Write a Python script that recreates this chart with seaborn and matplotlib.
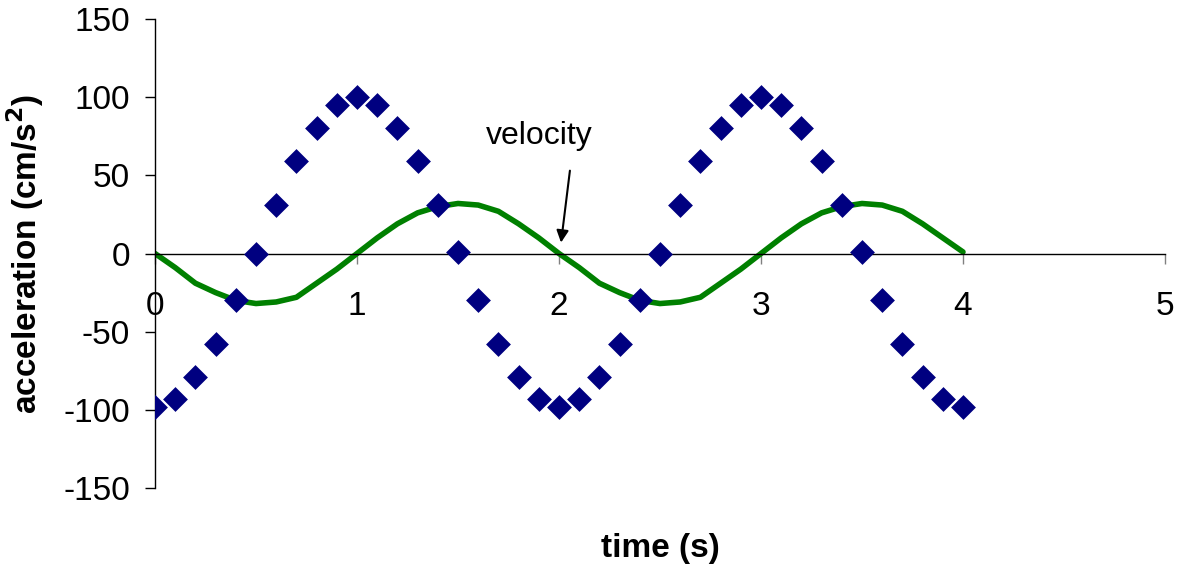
import numpy as np
import pandas as pd
import matplotlib
matplotlib.use("Agg")
import matplotlib.pyplot as plt
import seaborn as sns

# sample times (s)
time_s = [0.0, 0.1, 0.2, 0.3, 0.4, 0.5, 0.6, 0.7, 0.8, 0.9,
          1.0, 1.1, 1.2, 1.3, 1.4, 1.5, 1.6, 1.7, 1.8, 1.9,
          2.0, 2.1, 2.2, 2.3, 2.4, 2.5, 2.6, 2.7, 2.8, 2.9,
          3.0, 3.1, 3.2, 3.3, 3.4, 3.5, 3.6, 3.7, 3.8, 3.9, 4.0]

# acceleration (cm/s^2)
acceleration = [-98, -93, -79, -58, -30, 0, 31, 59, 80, 95,
                100, 95, 80, 59, 31, 1, -30, -58, -79, -93,
                -98, -93, -79, -58, -30, 0, 31, 59, 80, 95,
                100, 95, 80, 59, 31, 1, -30, -58, -79, -93, -98]

# velocity curve (green line)
velocity = [0, -9, -19, -25, -30, -32, -31, -28, -19, -10,
            0, 10, 19, 26, 30, 32, 31, 27, 19, 10,
            0, -9, -19, -25, -30, -32, -31, -28, -19, -10,
            0, 10, 19, 26, 30, 32, 31, 27, 19, 10, 1]

x_ticks = [0, 1, 2, 3, 4, 5]
y_ticks = [-150, -100, -50, 0, 50, 100, 150]

df = pd.DataFrame({"time": time_s, "acceleration": acceleration, "velocity": velocity})

sns.set_style("white")
plt.rcParams["font.family"] = ["Liberation Sans", "DejaVu Sans"]
plt.rcParams["axes.unicode_minus"] = False
plt.rcParams["text.color"] = "black"
plt.rcParams["axes.labelcolor"] = "black"
plt.rcParams["xtick.color"] = "black"
plt.rcParams["ytick.color"] = "black"

fig = plt.figure(figsize=(11.77, 5.66), dpi=100)
ax = fig.add_axes([0.1317, 0.1378, 0.8581, 0.8286])

sns.lineplot(data=df, x="time", y="velocity", color="#008000", linewidth=4, ax=ax)
sns.scatterplot(data=df, x="time", y="acceleration", marker="D", s=160,
                color="#000080", linewidth=0, ax=ax, zorder=3)

ax.set_xlim(0, 5)
ax.set_ylim(-150, 150)
ax.set_xticks(x_ticks)
ax.set_yticks(y_ticks)

ax.spines["right"].set_visible(False)
ax.spines["top"].set_visible(False)
ax.spines["bottom"].set_position(("data", 0))
ax.spines["bottom"].set_linewidth(1)
ax.spines["bottom"].set_color("black")
ax.spines["left"].set_linewidth(1)
ax.spines["left"].set_color("black")

ax.tick_params(axis="y", direction="out", length=7, width=1, color="black",
               labelsize=24, pad=11, left=True, labelcolor="black")
ax.tick_params(axis="x", direction="out", length=7, width=1, color="gray",
               labelsize=24, pad=20, bottom=True, labelcolor="black")

ax.set_xlabel("time (s)", fontsize=24, fontweight="bold")
ax.xaxis.set_label_coords(0.5, -0.095)
ax.set_ylabel("acceleration (cm/s$^\\mathbf{2}$)", fontsize=24, fontweight="bold")
ax.yaxis.set_label_coords(-0.108, 0.5)

ax.text(1.9, 75, "velocity", fontsize=23, ha="center", va="center")
ax.annotate("", xy=(2.01, 7), xytext=(2.054, 53),
            arrowprops=dict(arrowstyle="-|>", color="black", lw=1.5,
                            shrinkA=0, shrinkB=0, mutation_scale=18))

fig.savefig("out.png", dpi=100)
